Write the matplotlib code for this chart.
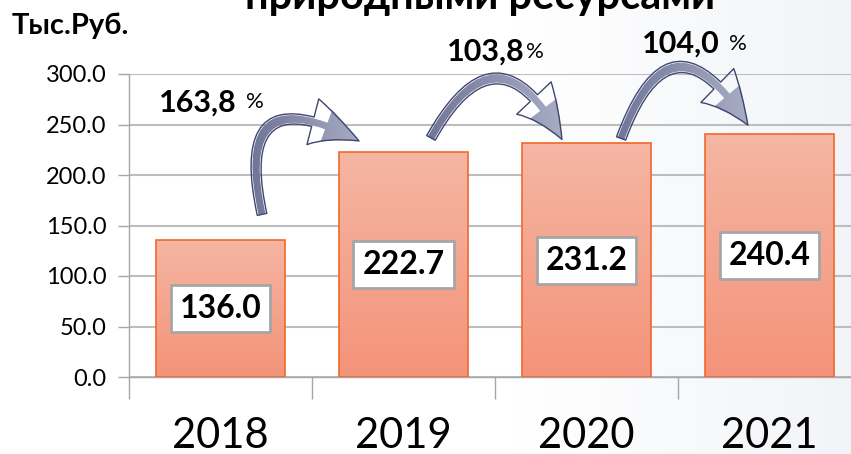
import numpy as np
import matplotlib

matplotlib.use("Agg")

import matplotlib.pyplot as plt
from matplotlib.colors import LinearSegmentedColormap
from matplotlib.patches import FancyArrowPatch


years = ["2018", "2019", "2020", "2021"]
values = [136.0, 222.7, 231.2, 240.4]
growth_labels = ["163,8", "103,8", "104,0"]
y_ticks = [0, 50, 100, 150, 200, 250, 300]

FONT = ["Lato", "DejaVu Sans"]
BAR_EDGE = "#F0682C"
BAR_CMAP = LinearSegmentedColormap.from_list("bar", ["#F4937A", "#F5B6A3"])
ARROW_CMAP = LinearSegmentedColormap.from_list("arrow", ["#686E93", "#AEB2C8"])
ARROW_EDGE = "#3F4670"

# (tail dx, tail dy, tip dx, tip dy, rad) relative to bar i / bar i+1
ARROW_STYLE = [
    (0.227, 25, -0.243, 11, -1.08),
    (0.150, 14, -0.134, 4, -0.92),
    (0.189, 5, -0.118, 9, -1.02),
]
# (bold text right x, y, gap between number and %)
GROWTH_POS = [(0.09, 272, True), (1.665, 322, False), (2.73, 330, True)]


def draw_background(fig):
    bg = fig.add_axes([0, 0, 1, 1], zorder=-10)
    grad = np.clip((np.linspace(0, 1, 400) - 0.6) / 0.4, 0, 1)
    grad = np.tile(grad, (50, 1))
    cmap = LinearSegmentedColormap.from_list("bg", ["#FFFFFF", "#F2F4F7"])
    bg.imshow(grad, cmap=cmap, aspect="auto", extent=[0, 1, 0, 1])
    bg.axis("off")


def draw_bars(ax):
    x = np.arange(len(years))
    bars = ax.bar(x, values, width=0.7, color="none", edgecolor=BAR_EDGE,
                  linewidth=1.2, zorder=3)
    grad = np.linspace(0, 1, 100).reshape(-1, 1)
    for rect in bars:
        x0 = rect.get_x()
        img = ax.imshow(grad, cmap=BAR_CMAP, origin="lower", aspect="auto",
                        extent=[x0, x0 + rect.get_width(), 0, rect.get_height()],
                        zorder=2)
        img.set_clip_path(rect)

    for i, v in enumerate(values):
        ax.text(i, v / 2, f"{v:.1f}", ha="center", va="center", fontsize=23,
                fontweight="bold", family=FONT, zorder=5,
                bbox=dict(boxstyle="square,pad=0.28", facecolor="white",
                          edgecolor="#A6A6A6", linewidth=2))


def draw_arrows(ax, fig):
    grad = np.linspace(0, 1, 100).reshape(1, -1)
    for i, (tdx, tdy, hdx, hdy, rad) in enumerate(ARROW_STYLE):
        tail = (i + tdx, values[i] + tdy)
        tip = (i + 1 + hdx, values[i + 1] + hdy)
        arrow = FancyArrowPatch(
            tail, tip,
            connectionstyle=f"arc3,rad={rad}",
            arrowstyle="simple,head_length=36,head_width=34,tail_width=7",
            mutation_scale=1, shrinkA=0, shrinkB=0,
            facecolor="none", edgecolor=ARROW_EDGE, linewidth=1,
            zorder=7, clip_on=False,
        )
        ax.add_patch(arrow)
        img = ax.imshow(grad, cmap=ARROW_CMAP, aspect="auto", origin="lower",
                        interpolation="bilinear",
                        extent=[tail[0] - 0.15, tip[0] + 0.08, tail[1] - 15, 340],
                        zorder=6)
        img.set_clip_path(arrow)
        img.set_clip_box(fig.bbox)

    for label, (x, y, gap) in zip(growth_labels, GROWTH_POS):
        ax.text(x, y, label, ha="right", va="center", fontsize=22,
                fontweight="bold", family=FONT, clip_on=False)
        ax.text(x + (0.05 if gap else 0.005), y, "%", ha="left", va="center",
                fontsize=16, family=FONT, clip_on=False)


def main():
    fig = plt.figure(figsize=(8.51, 4.54), dpi=100)
    draw_background(fig)

    ax = fig.add_axes([129 / 851, 77 / 454, 732 / 851, 303 / 454])
    ax.patch.set_alpha(0)

    draw_bars(ax)
    draw_arrows(ax, fig)

    ax.set_xlim(-0.5, 3.5)
    ax.set_ylim(0, 300)
    ax.set_yticks(y_ticks)
    ax.set_yticklabels([f"{t:.1f}" for t in y_ticks], fontsize=17, family=FONT)
    ax.set_xticks(np.arange(len(years)))
    ax.set_xticklabels(years, fontsize=30, family=FONT)
    ax.set_xticks(np.arange(len(years)) - 0.5, minor=True)
    ax.tick_params(axis="x", which="major", length=0, pad=29)
    ax.tick_params(axis="x", which="minor", length=16, color="#A6A6A6", width=1)
    ax.tick_params(axis="y", length=8, color="#A6A6A6", width=1, pad=8)

    ax.grid(axis="y", color="#BDBDBD", linewidth=1.5, zorder=0)
    ax.set_axisbelow(True)
    for side in ["top", "right"]:
        ax.spines[side].set_visible(False)
    for side in ["left", "bottom"]:
        ax.spines[side].set_color("#A6A6A6")
        ax.spines[side].set_linewidth(1)

    fig.text(12 / 851, 1 - 26 / 454, "Тыс.Руб.", ha="left", va="center",
             fontsize=21, fontweight="bold", family=FONT)
    fig.text(480 / 851, 1 - 9 / 454, "природными ресурсами", ha="center",
             va="baseline", fontsize=30, fontweight="bold", family=FONT)

    fig.savefig("out.png", dpi=100)
    plt.close(fig)


if __name__ == "__main__":
    main()
